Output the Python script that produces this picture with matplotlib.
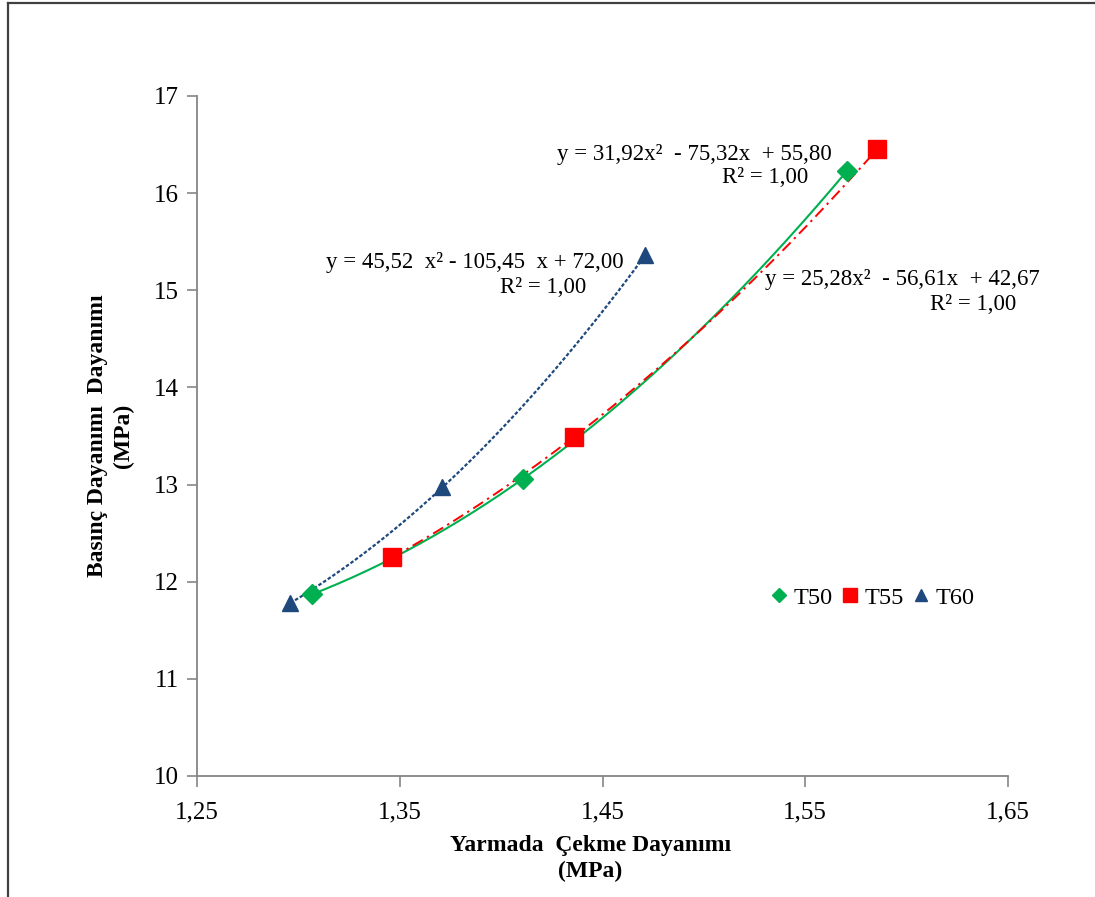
import numpy as np
import matplotlib
matplotlib.use("Agg")
import matplotlib.pyplot as plt
from matplotlib.lines import Line2D

plt.rcParams['font.family'] = ['Liberation Serif', 'DejaVu Serif']

# Splitting tensile strength (x) vs compressive strength (y), MPa
t50_x = [1.3067, 1.4108, 1.5706]
t50_y = [11.87, 13.06, 16.23]
t55_x = [1.3462, 1.4359, 1.5854]
t55_y = [12.25, 13.49, 16.45]
t60_x = [1.2960, 1.3710, 1.4710]
t60_y = [11.78, 12.97, 15.36]

series_names = ["T50", "T55", "T60"]
x_ticks = [1.25, 1.35, 1.45, 1.55, 1.65]
x_tick_labels = ["1,25", "1,35", "1,45", "1,55", "1,65"]
y_ticks = [10, 11, 12, 13, 14, 15, 16, 17]

eq_t50 = ["y = 31,92x\u00b2  - 75,32x  + 55,80", "R\u00b2 = 1,00"]
eq_t55 = ["y = 25,28x\u00b2  - 56,61x  + 42,67", "R\u00b2 = 1,00"]
eq_t60 = ["y = 45,52  x\u00b2 - 105,45  x + 72,00", "R\u00b2 = 1,00"]

c_green = "#00B050"
c_red = "#FF0000"
c_blue = "#1F497D"

fig = plt.figure(figsize=(10.95, 8.97), dpi=100)
ax = fig.add_axes([197 / 1095, 1 - 776 / 897, 811 / 1095, 680 / 897])

# outer frame of the chart area
fig.add_artist(Line2D([7.5 / 1095, 7.5 / 1095], [0, 1 - 3.5 / 897], color="#404040", lw=1.6,
                      transform=fig.transFigure))
fig.add_artist(Line2D([7.5 / 1095, 1], [1 - 3.5 / 897, 1 - 3.5 / 897], color="#404040", lw=1.6,
                      transform=fig.transFigure))


def trend(xs, ys, color, ls, lw):
    coef = np.polyfit(xs, ys, 2)
    xx = np.linspace(min(xs), max(xs), 200)
    ax.plot(xx, np.polyval(coef, xx), color=color, ls=ls, lw=lw, zorder=2)


trend(t50_x, t50_y, c_green, "-", 1.5)
trend(t55_x, t55_y, c_red, (0, (6, 2.5, 1.2, 2.5)), 1.4)
trend(t60_x, t60_y, c_blue, (0, (1.6, 0.9)), 1.6)

ax.plot(t50_x, t50_y, ls="none", marker="D", ms=10, color=c_green, label=series_names[0], zorder=3)
ax.plot(t55_x, t55_y, ls="none", marker="s", ms=12.5, color=c_red, label=series_names[1], zorder=3)
ax.plot(t60_x, t60_y, ls="none", marker="^", ms=12, color=c_blue, label=series_names[2], zorder=3)

ax.set_xlim(1.25, 1.65)
ax.set_ylim(10, 17)
ax.set_xticks(x_ticks)
ax.set_xticklabels(x_tick_labels)
ax.set_yticks(y_ticks)

for s in ["top", "right"]:
    ax.spines[s].set_visible(False)
for s in ["left", "bottom"]:
    ax.spines[s].set_color("#868686")
    ax.spines[s].set_linewidth(1.3)

ax.tick_params(axis="x", direction="out", length=8, width=1.2, color="#868686",
               labelsize=18, pad=10)
ax.tick_params(axis="y", direction="out", length=7, width=1.2, color="#868686",
               labelsize=18, pad=6)

ax.set_xlabel("Yarmada  \u00c7ekme Dayan\u0131m\u0131\n(MPa)", fontsize=17, fontweight="bold",
              linespacing=1.3)
ax.xaxis.set_label_coords(0.485, -0.122)
ax.xaxis.label.set_va("center")
ax.set_ylabel("Bas\u0131n\u00e7 Dayan\u0131m\u0131  Dayan\u0131m\u0131\n(MPa)", fontsize=17,
              fontweight="bold", linespacing=1.3)
ax.yaxis.set_label_coords(-0.107, 0.5)
ax.yaxis.label.set_va("center")

# trendline equations
ax.text(1.4276, 16.40, eq_t50[0], fontsize=16.5, ha="left", va="center")
ax.text(1.5090, 16.156, eq_t50[1], fontsize=16.5, ha="left", va="center")
ax.text(1.3136, 15.29, eq_t60[0], fontsize=16.5, ha="left", va="center")
ax.text(1.3994, 15.03, eq_t60[1], fontsize=16.5, ha="left", va="center")
ax.text(1.5301, 15.116, eq_t55[0], fontsize=16.5, ha="left", va="center")
ax.text(1.6115, 14.85, eq_t55[1], fontsize=16.5, ha="left", va="center")

leg = ax.legend(loc="center", bbox_to_anchor=(0.833, 0.262), ncol=3, frameon=False,
                fontsize=17.5, handlelength=0.7, handletextpad=0.25, columnspacing=0.35,
                markerscale=0.75)

fig.savefig("out.png", dpi=100, facecolor="white")
